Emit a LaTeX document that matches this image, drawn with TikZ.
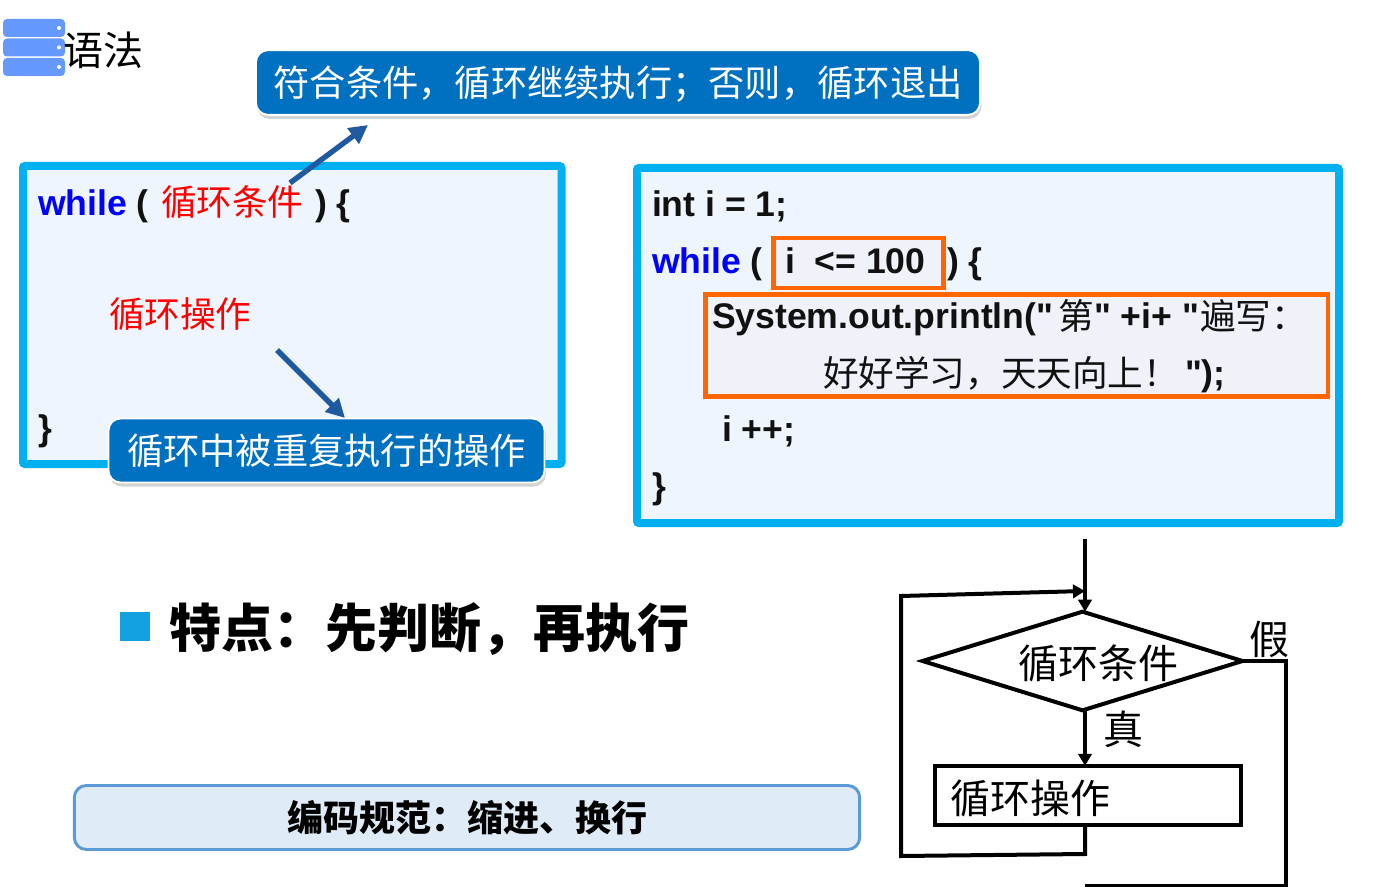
\documentclass[tikz,border=0pt]{standalone}
\usepackage{fontspec}
\setmainfont{Liberation Sans}[Ligatures=TeXOff]
\newfontfamily\cjk{Noto Sans CJK SC}
\usetikzlibrary{arrows.meta,shapes.geometric,shadows}
\definecolor{cyanb}{HTML}{00B0F0}
\definecolor{panel}{HTML}{EEF5FC}
\definecolor{orangeb}{HTML}{FF6600}
\definecolor{orangefill}{HTML}{F0F2FA}
\definecolor{calloutb}{HTML}{0070C0}
\definecolor{arrowb}{HTML}{1F5AA0}
\definecolor{iconb}{HTML}{6699FF}
\definecolor{barfill}{HTML}{DFECF8}
\definecolor{barline}{HTML}{5B9BD5}
\definecolor{bulletb}{HTML}{12A0E0}
\definecolor{ink}{HTML}{111111}
\newcommand{\fs}[1]{\fontsize{#1}{#1}\selectfont}
\tikzset{
  panelbox/.style={draw=cyanb,line width=6pt,fill=panel,rounded corners=1.5pt},
  orangebox/.style={draw=orangeb,line width=3.4pt,fill=orangefill},
  code/.style={anchor=base west,inner sep=0,outer sep=0,font=\fs{26.7}\bfseries,text=ink},
  callout/.style={rounded corners=9pt,draw=white,line width=1.4pt,fill=calloutb,text=white,
    inner sep=0,outer sep=0,font=\fs{27.2}\cjk,
    drop shadow={shadow xshift=1pt,shadow yshift=-3pt,opacity=.35}},
  thickarrow/.style={draw=arrowb,line width=4pt,-{Triangle[length=14pt,width=14pt]}},
  flow/.style={draw=black,line width=3pt,inner sep=0,outer sep=0},
  flowline/.style={black,line width=3pt,line join=miter},
  flowarrow/.style={flowline,-{Triangle[length=9pt,width=10pt]}},
  flowtext/.style={anchor=base west,inner sep=0,outer sep=0,font=\fs{30}\cjk,text=black},
  iconbar/.style={fill=iconb,rounded corners=3pt,inner sep=0,outer sep=0,minimum width=46.5pt,minimum height=13.5pt},
  icondot/.style={circle,fill=white,inner sep=0,minimum size=3pt},
}
\begin{document}
\begin{tikzpicture}[x=0.75pt,y=-0.75pt]
\useasboundingbox (0,0) rectangle (1387,887);
% icon
\node[iconbar] (ia) at (34,28) {};
\node[iconbar] (ib) at (34,47.5) {};
\node[iconbar] (ic) at (34,67) {};
\node[icondot] (da) at (59,28) {};
\node[icondot] (db) at (59,47.5) {};
\node[icondot] (dc) at (59,67) {};
\node[code,font=\fs{30}\cjk,text=black] (title) at (63,66) {语法};
% left panel
\draw[panelbox] (23,166) rectangle (561.5,464);
\node[code] (l1a) at (38,216) {\textcolor{blue}{while} ( };
\node[code,font=\fs{26.7}\cjk,text=red] (l1b) at (161,216) {循环条件};
\node[code] (l1c) at (315,216) {) \{};
\node[code,font=\fs{26.7}\cjk,text=red] (l2) at (109,328) {循环操作};
\node[code] (l3) at (38,440) {\}};
% right panel
\draw[panelbox] (637,168) rectangle (1339,523);
\draw[orangebox] (773.5,238) rectangle (943.5,288);
\draw[orangebox] (705.5,294.5) rectangle (1328,396.5);
\node[code] (r1) at (652,217) {int i = 1;};
\node[code] (r2a) at (652,274) {\textcolor{blue}{while} (};
\node[code] (r2b) at (785,274) {i\ \ <= 100};
\node[code] (r2c) at (947,274) {) \{};
\node[code] (r3a) at (712,329) {System.out.println("};
\node[code,font=\fs{26.7}\cjk] (r3b) at (1058,330) {第};
\node[code] (r3c) at (1094,329) {" +i+ "};
\node[code,font=\fs{26.7}\cjk] (r3d) at (1200,330) {遍写：};
\node[code,font=\fs{26.7}\cjk] (r4a) at (823,387) {好好学习，天天向上！};
\node[code] (r4b) at (1185,386) {");};
\node[code] (r5) at (722,441) {i ++;};
\node[code] (r6) at (652,498) {\}};
% callouts
\node[callout,minimum width=543pt,minimum height=48.5pt] (c1) at (618,82.5) {\raisebox{-1.5pt}[\height][\depth]{符合条件，循环继续执行；否则，循环退出}};
\node[callout,minimum width=327pt,minimum height=48pt] (c2) at (326.5,450.5) {\raisebox{-0.5pt}[\height][\depth]{循环中被重复执行的操作}};
\coordinate (a1s) at (290,183);
\coordinate (a1e) at (368,125);
\coordinate (a2s) at (277,350);
\coordinate (a2e) at (345,418);
\draw[thickarrow] (a1s) -- (a1e);
\draw[thickarrow] (a2s) -- (a2e);
% feature
\node[fill=bulletb,inner sep=0,outer sep=0,minimum width=22.5pt,minimum height=22pt] (bul) at (135,626.5) {};
\node[code,font=\fs{39}\cjk\bfseries,text=black] (feat) at (169.5,647) {特点：先判断，再执行};
% bar
\node[draw=barline,line width=2.2pt,fill=barfill,rounded corners=9pt,minimum width=589pt,minimum height=48pt,inner sep=0,outer sep=0,font=\fs{27}\cjk\bfseries,text=black] (bar) at (467,817.5) {编码规范：缩进、换行};
% flowchart
\node[flow,diamond,shape aspect=3.23,minimum width=240pt,minimum height=74pt] (dia) at (1082.5,661) {};
\node[flowtext] (dt) at (1018,678) {循环条件};
\node[flow,minimum width=229.5pt,minimum height=44.5pt] (op) at (1087.5,795.5) {};
\node[flowtext] (ot) at (950,813) {循环操作};
\node[flowtext] (yes) at (1103.5,744) {真};
\node[flowtext] (no) at (1249,654) {假};
\coordinate (top) at (1085,539);
\coordinate (b1) at (1085,854);
\coordinate (b2) at (901,856);
\coordinate (b3) at (901,596);
\coordinate (b4) at (1085,591);
\coordinate (e2) at (1286,886);
\coordinate (e3) at (1085,886);
\draw[flowarrow] (top) -- (top |- dia.north);
\draw[flowarrow] (dia.south -| top) -- (top |- op.north);
\draw[flowarrow] (top |- op.south) -- (b1) -- (b2) -- (b3) -- (b4);
\draw[flowline] (dia.east) -- (dia.east -| e2) -- (e2) -- (e3);
\end{tikzpicture}
\end{document}
